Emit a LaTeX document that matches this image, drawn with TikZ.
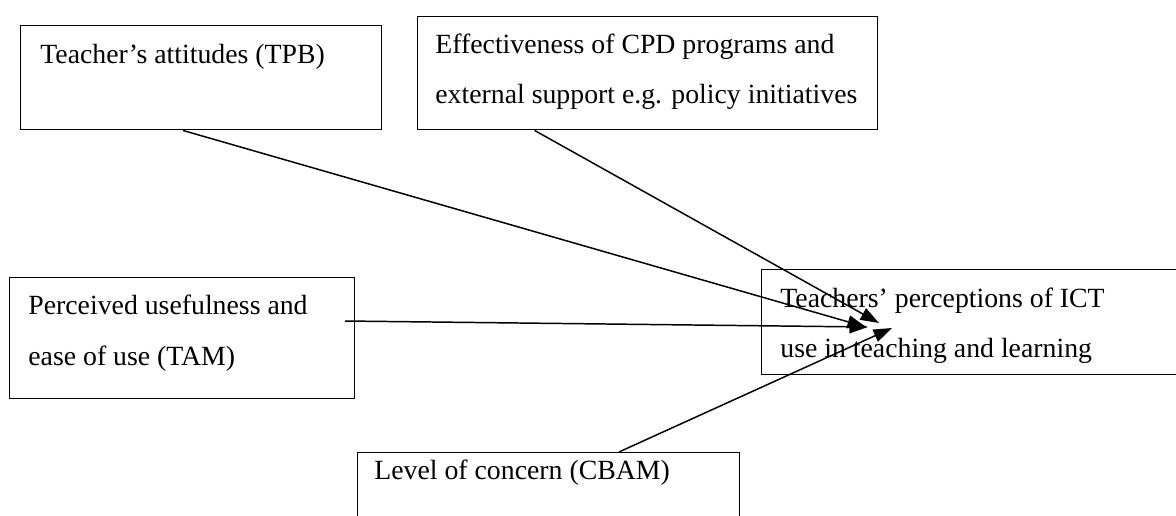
\documentclass[tikz,border=0pt]{standalone}
\usepackage{fontspec}
\setmainfont{Liberation Serif}
\usetikzlibrary{arrows.meta,calc}
\begin{document}
\begin{tikzpicture}[x=0.54pt,y=-0.54pt,
  box/.style={draw,line width=0.8pt,inner sep=0pt,anchor=north west},
  lbl/.style={inner sep=0pt,anchor=base west,font=\fontsize{15}{18}\selectfont},
  conn/.style={line width=0.8pt,-{Triangle[length=10pt,width=7pt]}}]
\useasboundingbox (0,0) rectangle (1176,515);
\clip (0,0) rectangle (1176,515);
% boxes
\node[box,minimum width=194.94pt,minimum height=56.16pt] (tpb) at (20,25) {};
\node[box,minimum width=248.4pt,minimum height=61.02pt] (cpd) at (417,16) {};
\node[box,minimum width=186.3pt,minimum height=65.34pt] (tam) at (9,277) {};
\node[box,minimum width=237.6pt,minimum height=56.7pt] (ict) at (761,269) {};
\node[box,minimum width=206.28pt,minimum height=54pt] (cbam) at (357,452) {};
% labels
\node[lbl] (tpbt) at (40,63) {Teacher’s attitudes (TPB)};
\node[lbl] (cpdt1) at (435,53) {Effectiveness of CPD programs and};
\node[lbl] (cpdt2) at (435,103) {external support e.g. policy initiatives};
\node[lbl] (tamt1) at (28,314) {Perceived usefulness and};
\node[lbl] (tamt2) at (28,365) {ease of use (TAM)};
\node[lbl] (ictt1) at (780,307) {Teachers’ perceptions of ICT};
\node[lbl] (ictt2) at (780,357) {use in teaching and learning};
\node[lbl] (cbamt) at (374,479) {Level of concern (CBAM)};
% connector ends
\coordinate (s1) at ($(tpb.south west)!0.45!(tpb.south east)$);
\coordinate (s2) at ($(cpd.south west)!0.255!(cpd.south east)$);
\coordinate (s3) at (345,321);
\coordinate (s4) at ($(cbam.north west)!0.683!(cbam.north east)$);
\coordinate (e1) at (866,327);
\coordinate (e2) at (879,323);
\coordinate (e3) at (868,327);
\coordinate (e4) at (892,328);
\draw[conn] (s1) -- (e1);
\draw[conn] (s2) -- (e2);
\draw[conn] (s3) -- (e3);
\draw[conn] (s4) -- (e4);
\end{tikzpicture}
\end{document}
